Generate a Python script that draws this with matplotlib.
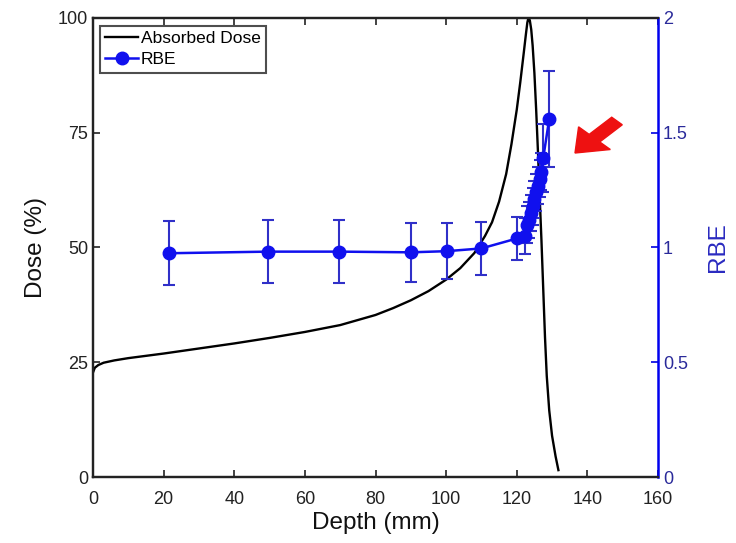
import matplotlib
matplotlib.use("Agg")
import matplotlib.pyplot as plt
from matplotlib.lines import Line2D

plt.rcParams['font.family'] = ['Liberation Sans', 'DejaVu Sans']

# Absorbed dose curve (Bragg peak)
depth_dose = [0, 0.5, 1.5, 3, 6, 10, 20, 30, 40, 50, 60, 70, 80, 85, 90, 95, 100,
              104, 108, 111, 113, 115, 117, 118.5, 120, 121, 122, 122.6, 123.0,
              123.3, 123.7, 124.1, 124.5, 125, 125.5, 126, 126.5, 127.0, 127.5,
              128, 128.5, 129.2, 130, 131, 131.8]
dose = [22.8, 23.8, 24.4, 24.9, 25.4, 25.9, 26.9, 28.0, 29.1, 30.3, 31.6, 33.1,
        35.3, 36.8, 38.5, 40.5, 43.0, 45.5, 48.8, 52.5, 55.5, 60.0, 66.0, 72.5,
        80.0, 86.0, 92.5, 96.5, 99.0, 100.0, 99.5, 97.5, 94.0, 88.0, 80.0, 71.0,
        61.0, 51.5, 41.0, 30.5, 22.0, 14.5, 9.0, 4.5, 1.5]

# RBE points
depth_rbe = [21.6, 49.6, 69.8, 90, 100.2, 110, 120.2, 122.4, 123.0, 123.5, 124.0,
             124.5, 125.0, 125.5, 126.0, 126.5, 127.0, 127.5, 129.2]
rbe = [0.975, 0.982, 0.982, 0.979, 0.984, 0.996, 1.04, 1.05, 1.10, 1.12, 1.15,
       1.18, 1.21, 1.24, 1.27, 1.30, 1.33, 1.39, 1.56]
rbe_err = [0.14, 0.137, 0.137, 0.128, 0.122, 0.115, 0.095, 0.08, 0.08, 0.08, 0.08,
           0.08, 0.08, 0.08, 0.08, 0.08, 0.08, 0.15, 0.21]

x_ticks = [0, 20, 40, 60, 80, 100, 120, 140, 160]
dose_ticks = [0, 25, 50, 75, 100]
rbe_ticks = [0, 0.5, 1, 1.5, 2]
rbe_tick_labels = ['0', '0.5', '1', '1.5', '2']

fig = plt.figure(figsize=(7.36, 5.43), dpi=100)
ax = fig.add_axes([0.1264, 0.1215, 0.894 - 0.1264, 0.9669 - 0.1215])
ax2 = ax.twinx()

l1, = ax.plot(depth_dose, dose, color='black', lw=1.7)
ax2.errorbar(depth_rbe, rbe, yerr=rbe_err, color='#1010ee', ecolor='#3030c8',
             elinewidth=1.5, capsize=4, capthick=1.5, marker='o',
             markersize=9, lw=1.8)

ax.set_xlim(0, 160)
ax.set_ylim(0, 100)
ax2.set_ylim(0, 2)
ax.set_xticks(x_ticks)
ax.set_yticks(dose_ticks)
ax2.set_yticks(rbe_ticks)
ax2.set_yticklabels(rbe_tick_labels)

ax.tick_params(axis='both', direction='in', length=5, width=1.2, labelsize=13,
               colors='#222222', top=True)
ax.tick_params(axis='x', pad=10)
ax2.tick_params(axis='y', direction='in', length=5, width=1.2, labelsize=13,
                colors='#0000e0', labelcolor='#2a2a9a')

for sp in ['left', 'bottom', 'top']:
    ax.spines[sp].set_linewidth(1.6)
    ax.spines[sp].set_color('#222222')
    ax2.spines[sp].set_linewidth(1.6)
    ax2.spines[sp].set_color('#222222')
ax.spines['right'].set_visible(False)
ax2.spines['right'].set_color('#0000ee')
ax2.spines['right'].set_linewidth(1.8)

ax.set_xlabel('Depth (mm)', fontsize=17.5, color='#111111', labelpad=3)
ax.set_ylabel('Dose (%)', fontsize=17.5, color='#111111', labelpad=8)
ax2.set_ylabel('RBE', fontsize=17.5, color='#2a2ac0', labelpad=14)

h1 = Line2D([], [], color='black', lw=1.7)
h2 = Line2D([], [], color='#1010ee', lw=1.8, marker='o', markersize=9)
leg = ax.legend([h1, h2], ['Absorbed Dose', 'RBE'], loc='upper left',
                bbox_to_anchor=(0.012, 0.983), fontsize=12.5, frameon=True,
                fancybox=False, edgecolor='#222222', handlelength=1.9,
                handletextpad=0.15, borderpad=0.3, labelspacing=0.35,
                borderaxespad=0.0)
leg.get_frame().set_linewidth(1.5)

# red arrow annotation
fig.patches.append(matplotlib.patches.FancyArrow(
    617 / 736, 1 - 121 / 543, (575 - 617) / 736, (121 - 153) / 543,
    width=0.02, head_width=0.06, head_length=0.038,
    length_includes_head=True, color='#ee1111', transform=fig.transFigure))

fig.savefig('out.png', dpi=100)
